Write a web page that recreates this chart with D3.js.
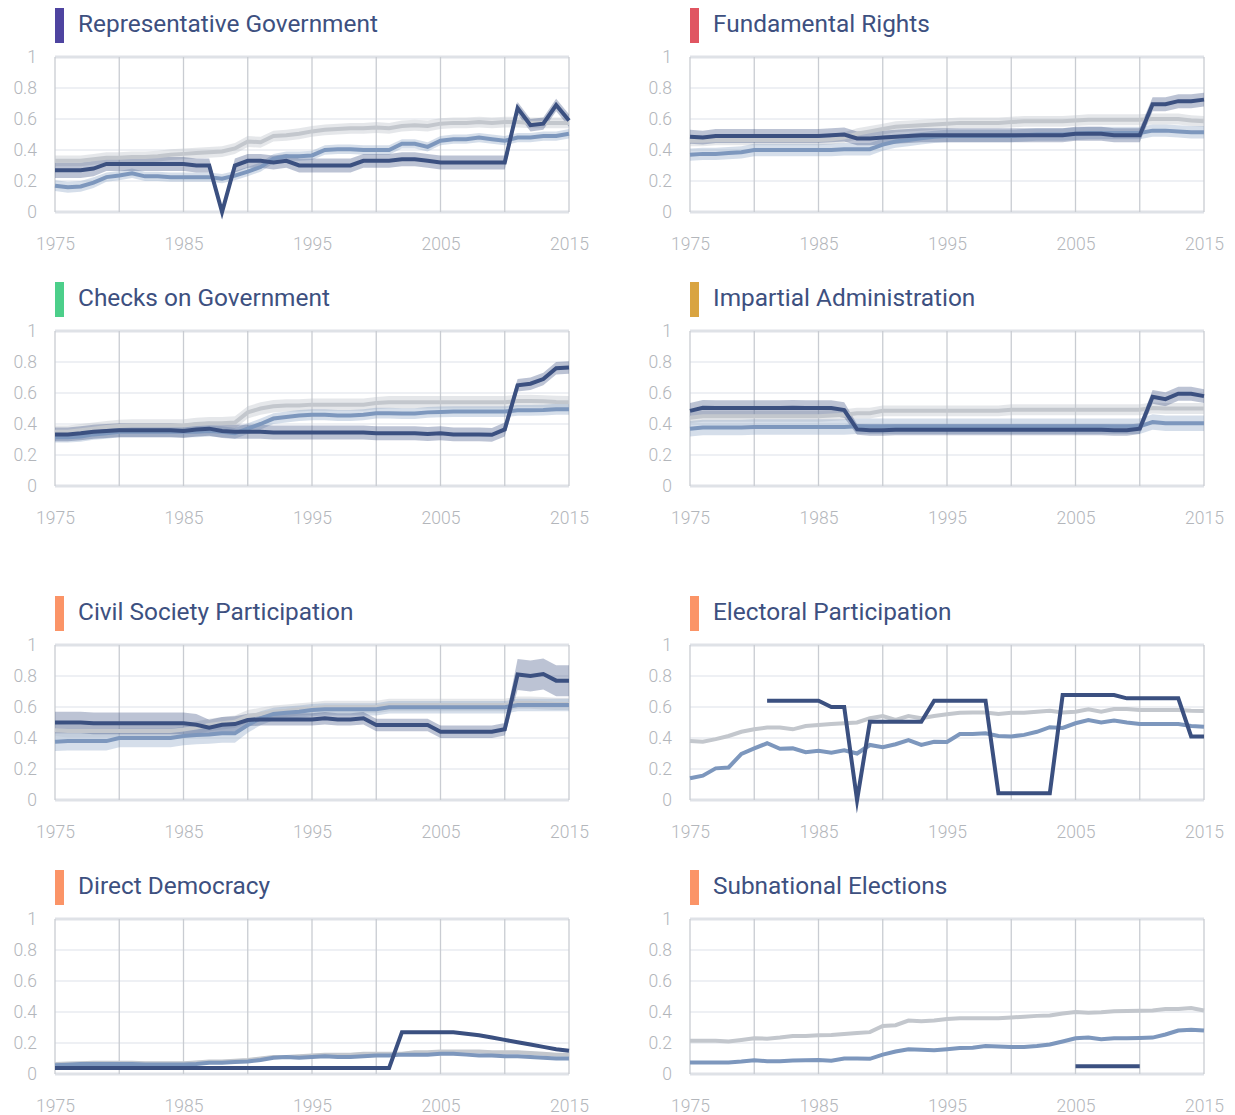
<!DOCTYPE html>
<html><head><meta charset="utf-8">
<script src="https://cdn.jsdelivr.net/npm/d3@7"></script>
<style>body{margin:0;background:#fff;} svg{display:block;font-family:Roboto,'Open Sans',sans-serif;}</style>
</head><body><svg id="c" width="1235" height="1115"></svg>
<script>
const years = [1975,1976,1977,1978,1979,1980,1981,1982,1983,1984,1985,1986,1987,1988,1989,1990,1991,1992,1993,1994,1995,1996,1997,1998,1999,2000,2001,2002,2003,2004,2005,2006,2007,2008,2009,2010,2011,2012,2013,2014,2015];
const xTicks = [1975,1985,1995,2005,2015];
const yTicks = [0,0.2,0.4,0.6,0.8,1];
const titles = ["Representative Government","Fundamental Rights","Checks on Government","Impartial Administration","Civil Society Participation","Electoral Participation","Direct Democracy","Subnational Elections"];
const barColors = ["#4e44a0","#e05561","#4ccf8a","#d9a441","#fb9467","#fb9467","#fb9467","#fb9467"];

// Representative Government
const repC = [.27,.27,.27,.28,.31,.31,.31,.31,.31,.31, .31,.30,.30,.00,.30,.33,.33,.32,.33,.30, .30,.30,.30,.30,.33,.33,.33,.34,.34,.33, .32,.32,.32,.32,.32,.32,.67,.56,.57,.69, .59];
const repCm = [.05,.05,.05,.05,.045,.045,.045,.045,.045,.045, .045,.045,.045,.02,.045,.045,.045,.045,.045,.045, .045,.045,.045,.045,.045,.045,.045,.045,.045,.045, .045,.045,.045,.045,.045,.045,.04,.04,.04,.04, .04];
const repR = [.17,.16,.165,.19,.225,.235,.25,.23,.23,.225, .225,.225,.225,.215,.235,.26,.29,.345,.36,.36, .365,.40,.405,.405,.40,.40,.40,.44,.44,.42, .46,.47,.47,.48,.47,.46,.48,.48,.49,.49, .505];
const repRm = [.035,.035,.035,.035,.03,.03,.03,.03,.03,.03, .03,.03,.03,.03,.03,.03,.03,.03,.03,.03, .03,.03,.03,.03,.03,.03,.03,.03,.03,.03, .03,.03,.03,.03,.03,.03,.03,.03,.03,.03, .03];
const repW = [.33,.33,.33,.34,.35,.35,.355,.355,.36,.37, .375,.38,.385,.39,.41,.455,.45,.49,.495,.505, .52,.53,.535,.54,.54,.545,.54,.555,.56,.555, .57,.575,.575,.58,.575,.58,.58,.575,.575,.575, .575];
const repWm = [.035,.035,.035,.035,.035,.035,.035,.035,.035,.035, .035,.035,.035,.035,.035,.035,.035,.035,.035,.035, .035,.035,.035,.035,.035,.035,.035,.035,.035,.035, .035,.035,.035,.035,.035,.035,.035,.035,.035,.035, .035];

// Fundamental Rights
const frC = [.485,.48,.49,.49,.49,.49,.49,.49,.49,.49, .49,.495,.50,.475,.475,.48,.485,.49,.495,.495, .495,.495,.495,.495,.495,.495,.495,.495,.495,.495, .505,.505,.505,.495,.495,.495,.695,.695,.715,.715, .725];
const frCm = [.045,.045,.045,.045,.045,.045,.045,.045,.045,.045, .045,.045,.045,.045,.045,.045,.045,.045,.045,.045, .045,.045,.045,.045,.045,.045,.045,.045,.045,.045, .045,.045,.045,.045,.045,.045,.045,.045,.045,.045, .045];
const frR = [.37,.375,.375,.38,.385,.40,.40,.40,.40,.40, .40,.40,.405,.405,.405,.435,.455,.465,.475,.485, .49,.49,.49,.49,.49,.49,.495,.50,.50,.50, .505,.51,.51,.51,.51,.51,.525,.525,.52,.515, .515];
const frRm = [.04,.04,.04,.04,.04,.04,.04,.04,.04,.04, .04,.04,.04,.04,.04,.04,.04,.04,.04,.04, .04,.04,.04,.04,.04,.04,.04,.04,.04,.04, .04,.04,.04,.04,.04,.04,.04,.04,.04,.04, .04];
const frW = [.46,.46,.465,.465,.465,.465,.465,.465,.465,.465, .465,.47,.48,.505,.52,.535,.55,.555,.56,.565, .57,.575,.575,.575,.575,.58,.585,.585,.585,.585, .59,.595,.595,.595,.595,.595,.60,.60,.60,.59, .585];
const frWm = [.035,.035,.035,.035,.035,.035,.035,.035,.035,.035, .035,.035,.035,.035,.035,.035,.035,.035,.035,.035, .035,.035,.035,.035,.035,.035,.035,.035,.035,.035, .035,.035,.035,.035,.035,.035,.035,.035,.035,.035, .035];

// Checks on Government
const cgC = [.333,.333,.34,.35,.355,.36,.36,.36,.36,.36, .355,.365,.37,.355,.35,.35,.35,.345,.345,.345, .345,.345,.345,.345,.345,.34,.34,.34,.34,.335, .34,.333,.333,.333,.33,.365,.65,.66,.69,.76, .765];
const cgCm = [.045,.045,.045,.045,.045,.045,.045,.045,.045,.045, .045,.045,.045,.045,.045,.045,.045,.045,.045,.045, .045,.045,.045,.045,.045,.045,.045,.045,.045,.045, .045,.045,.045,.045,.045,.045,.04,.04,.04,.04, .04];
const cgR = [.315,.315,.32,.333,.34,.35,.35,.35,.35,.35, .35,.35,.355,.35,.34,.37,.40,.435,.445,.455, .46,.46,.455,.455,.46,.47,.47,.467,.467,.475, .478,.48,.48,.48,.48,.48,.488,.488,.49,.495, .495];
const cgRm = [.035,.035,.035,.035,.035,.035,.035,.035,.035,.035, .035,.035,.035,.035,.035,.035,.035,.035,.035,.035, .035,.035,.035,.035,.035,.035,.035,.035,.035,.035, .035,.035,.035,.035,.035,.035,.035,.035,.035,.035, .035];
const cgW = [.35,.35,.36,.37,.38,.387,.39,.39,.39,.39, .39,.40,.405,.405,.41,.475,.50,.515,.52,.52, .525,.525,.525,.525,.525,.535,.54,.54,.54,.54, .54,.54,.54,.54,.54,.54,.548,.548,.546,.542, .54];
const cgWm = [.04,.04,.04,.04,.04,.04,.04,.04,.04,.04, .04,.04,.04,.04,.04,.04,.04,.04,.04,.04, .04,.04,.04,.04,.04,.04,.04,.04,.04,.04, .04,.04,.04,.04,.04,.04,.04,.04,.04,.04, .04];

// Impartial Administration
const iaC = [.485,.505,.503,.503,.503,.503,.503,.503,.505,.503, .503,.503,.49,.365,.36,.36,.363,.363,.363,.363, .363,.363,.363,.363,.363,.363,.363,.363,.363,.363, .363,.363,.363,.36,.36,.37,.575,.56,.595,.595, .58];
const iaCm = [.05,.05,.05,.05,.05,.05,.05,.05,.05,.05, .05,.05,.05,.035,.035,.035,.035,.035,.035,.035, .035,.035,.035,.035,.035,.035,.035,.035,.035,.035, .035,.035,.035,.035,.035,.035,.045,.045,.045,.045, .045];
const iaR = [.37,.377,.377,.377,.377,.38,.38,.38,.38,.38, .38,.38,.38,.385,.385,.385,.385,.385,.385,.385, .385,.385,.385,.385,.385,.385,.385,.385,.385,.385, .385,.385,.385,.385,.385,.385,.413,.405,.405,.405, .405];
const iaRm = [.05,.05,.05,.05,.05,.05,.05,.05,.05,.05, .05,.05,.05,.05,.05,.05,.05,.05,.05,.05, .05,.05,.05,.05,.05,.05,.05,.05,.05,.05, .05,.05,.05,.05,.05,.05,.05,.05,.05,.05, .05];
const iaW = [.44,.45,.45,.45,.45,.45,.45,.45,.45,.45, .45,.455,.46,.47,.47,.485,.485,.485,.485,.485, .485,.485,.485,.485,.485,.492,.492,.492,.492,.492, .492,.492,.492,.492,.492,.492,.503,.50,.50,.50, .50];
const iaWm = [.035,.035,.035,.035,.035,.035,.035,.035,.035,.035, .035,.035,.035,.035,.035,.035,.035,.035,.035,.035, .035,.035,.035,.035,.035,.035,.035,.035,.035,.035, .035,.035,.035,.035,.035,.035,.035,.035,.035,.035, .035];

// Civil Society Participation
const csC = [.50,.50,.50,.495,.495,.495,.495,.495,.495,.495, .495,.485,.467,.485,.49,.516,.52,.52,.52,.52, .52,.527,.52,.52,.527,.484,.484,.484,.484,.484, .44,.44,.44,.44,.44,.456,.81,.80,.813,.77, .77];
const csCm = [.07,.07,.07,.07,.07,.07,.07,.07,.07,.07, .07,.07,.05,.05,.05,.04,.04,.04,.04,.04, .04,.04,.04,.04,.04,.04,.04,.04,.04,.04, .04,.04,.04,.04,.04,.04,.10,.10,.10,.10, .10];
const csR = [.376,.38,.38,.38,.38,.40,.40,.40,.40,.40, .413,.42,.423,.43,.43,.484,.527,.555,.563,.57, .58,.585,.585,.585,.585,.585,.598,.598,.598,.598, .598,.598,.598,.598,.598,.598,.613,.613,.613,.613, .613];
const csRm = [.06,.06,.06,.06,.06,.06,.06,.06,.06,.06, .06,.06,.06,.06,.06,.05,.045,.04,.04,.04, .04,.04,.04,.04,.04,.04,.04,.04,.04,.04, .04,.04,.04,.04,.04,.04,.04,.04,.04,.04, .04];
const csW = [.45,.445,.445,.445,.445,.445,.445,.445,.445,.445, .455,.467,.484,.495,.505,.54,.555,.57,.576,.585, .59,.60,.60,.60,.60,.60,.613,.613,.613,.613, .613,.613,.613,.613,.613,.613,.628,.628,.624,.62, .62];
const csWm = [.04,.04,.04,.04,.04,.04,.04,.04,.04,.04, .04,.04,.04,.04,.04,.04,.04,.04,.04,.04, .04,.04,.04,.04,.04,.04,.04,.04,.04,.04, .04,.04,.04,.04,.04,.04,.04,.04,.04,.04, .04];

// Electoral Participation
const epC = [null,null,null,null,null,null,.64,.64,.64,.64, .64,.60,.60,.00,.505,.505,.505,.505,.505,.64, .64,.64,.64,.64,.043,.043,.043,.043,.043,.677, .677,.677,.677,.677,.656,.656,.656,.656,.656,.41, .41];
const epR = [.14,.157,.204,.21,.297,.333,.366,.33,.333,.308, .318,.305,.32,.30,.355,.34,.36,.387,.355,.376, .374,.426,.426,.43,.413,.41,.42,.44,.47,.465, .495,.516,.50,.512,.50,.49,.49,.49,.49,.477, .473];
const epW = [.38,.376,.393,.413,.44,.456,.467,.468,.456,.477, .484,.49,.495,.50,.527,.542,.516,.542,.527,.542, .553,.563,.565,.565,.555,.563,.563,.57,.576,.565, .57,.585,.57,.587,.587,.58,.58,.58,.58,.576, .574];

// Direct Democracy
const ddC = [.039,.039,.039,.039,.039,.039,.039,.039,.039,.039, .039,.039,.039,.039,.039,.039,.039,.039,.039,.039, .039,.039,.039,.039,.039,.039,.039,.27,.27,.27, .27,.27,.26,.25,.235,.22,.205,.19,.175,.16, .15];
const ddR = [.056,.06,.065,.065,.065,.065,.065,.062,.062,.062, .062,.065,.072,.072,.078,.08,.09,.105,.11,.105, .11,.115,.11,.11,.115,.12,.12,.125,.125,.125, .13,.13,.125,.12,.12,.115,.115,.11,.105,.10, .10];
const ddRm = [.008,.008,.008,.008,.008,.008,.008,.008,.008,.008, .008,.008,.008,.008,.008,.008,.008,.008,.008,.008, .008,.008,.008,.008,.008,.008,.008,.008,.008,.008, .008,.008,.008,.008,.008,.008,.008,.008,.008,.008, .008];
const ddW = [.065,.068,.07,.072,.072,.072,.072,.07,.07,.07, .07,.075,.08,.08,.085,.09,.10,.11,.11,.115, .12,.125,.125,.125,.13,.13,.13,.13,.14,.14, .145,.145,.145,.145,.14,.14,.14,.135,.13,.125, .125];
const ddWm = [.01,.01,.01,.01,.01,.01,.01,.01,.01,.01, .01,.01,.01,.01,.01,.01,.01,.01,.01,.01, .01,.01,.01,.01,.01,.01,.01,.01,.01,.01, .01,.01,.01,.01,.01,.01,.01,.01,.01,.01, .01];

// Subnational Elections
const snC = [null,null,null,null,null,null,null,null,null,null, null,null,null,null,null,null,null,null,null,null, null,null,null,null,null,null,null,null,null,null, .05,.05,.05,.05,.05,.05,null,null,null,null, null];
const snR = [.075,.075,.075,.075,.08,.088,.083,.083,.087,.088, .09,.085,.10,.10,.098,.125,.145,.16,.157,.153, .16,.167,.17,.18,.177,.175,.175,.18,.19,.21, .23,.235,.225,.23,.23,.232,.235,.255,.28,.285, .28];
const snW = [.215,.215,.215,.21,.22,.23,.228,.235,.245,.245, .25,.252,.258,.265,.27,.31,.315,.345,.34,.345, .355,.36,.36,.36,.36,.365,.37,.375,.377,.39, .40,.395,.398,.405,.407,.408,.41,.42,.42,.425, .41];

const panels = [
  {c:repC,cm:repCm,r:repR,rm:repRm,w:repW,wm:repWm},
  {c:frC,cm:frCm,r:frR,rm:frRm,w:frW,wm:frWm},
  {c:cgC,cm:cgCm,r:cgR,rm:cgRm,w:cgW,wm:cgWm},
  {c:iaC,cm:iaCm,r:iaR,rm:iaRm,w:iaW,wm:iaWm},
  {c:csC,cm:csCm,r:csR,rm:csRm,w:csW,wm:csWm},
  {c:epC,r:epR,w:epW},
  {c:ddC,r:ddR,rm:ddRm,w:ddW,wm:ddWm},
  {c:snC,r:snR,w:snW}
];

const COL = {c:"#3b5080", r:"#7d97bd", w:"#c3c7cd"};
const BAND = {c:"rgba(59,80,128,0.34)", r:"rgba(125,151,189,0.32)", w:"rgba(190,195,203,0.40)"};

const svg = d3.select('#c');
const colX = [55, 690], plotW = 514, rowTop = [57, 331, 645, 919], plotH = 155;

panels.forEach((p, i) => {
  const x0 = colX[i % 2], y0 = rowTop[Math.floor(i / 2)];
  const x = d3.scaleLinear().domain([1975, 2015]).range([x0, x0 + plotW]);
  const y = d3.scaleLinear().domain([0, 1]).range([y0 + plotH, y0]);
  const g = svg.append('g');

  // title
  g.append('rect').attr('x', x0).attr('y', y0 - 49).attr('width', 9).attr('height', 35).attr('fill', barColors[i]);
  g.append('text').attr('x', x0 + 23).attr('y', y0 - 25).text(titles[i])
    .attr('font-size', 24.4).attr('fill', '#3d5080').attr('font-weight', 400);

  // horizontal grid
  g.selectAll('.hg').data(yTicks).join('line')
    .attr('x1', x0).attr('x2', x0 + plotW)
    .attr('y1', d => y(d)).attr('y2', d => y(d))
    .attr('stroke', d => (d === 0 || d === 1) ? '#dfe2e7' : '#eef0f4')
    .attr('stroke-width', d => (d === 0 || d === 1) ? 3 : 2);
  // vertical grid
  const vt = years.filter(yy => yy % 5 === 0);
  g.selectAll('.vg').data(vt).join('line')
    .attr('x1', d => x(d)).attr('x2', d => x(d))
    .attr('y1', y0).attr('y2', y0 + plotH)
    .attr('stroke', '#c9ccd2').attr('stroke-width', 1.3);

  // axes
  const ya = g.append('g').attr('transform', `translate(${x0},0)`)
    .call(d3.axisLeft(y).tickValues(yTicks).tickSize(0).tickPadding(18).tickFormat(d3.format('~g')));
  ya.select('.domain').remove();
  const xa = g.append('g').attr('transform', `translate(0,${y0 + plotH})`)
    .call(d3.axisBottom(x).tickValues(xTicks).tickSize(0).tickPadding(26).tickFormat(d3.format('d')));
  xa.select('.domain').remove();
  g.selectAll('.tick text').attr('font-size', 17.5).attr('fill', '#b3b6bb').attr('font-weight', 300)
    .attr('font-family', "Roboto,'Open Sans',sans-serif");

  // bands
  ['w', 'r', 'c'].forEach(k => {
    const m = p[k + 'm'];
    if (!m) return;
    const vals = p[k];
    const area = d3.area()
      .defined((d, j) => vals[j] != null)
      .x((d, j) => x(years[j]))
      .y0((d, j) => y(Math.max(0, vals[j] - m[j])))
      .y1((d, j) => y(Math.min(1, vals[j] + m[j])));
    g.append('path').datum(vals).attr('d', area).attr('fill', BAND[k]);
  });
  // lines
  ['w', 'r', 'c'].forEach(k => {
    const vals = p[k];
    const line = d3.line()
      .defined(d => d != null)
      .x((d, j) => x(years[j]))
      .y(d => y(d));
    g.append('path').datum(vals).attr('d', line).attr('fill', 'none')
      .attr('stroke', COL[k]).attr('stroke-width', 4).attr('stroke-linejoin', 'miter').attr('stroke-miterlimit', 10);
  });
});
</script></body></html>
